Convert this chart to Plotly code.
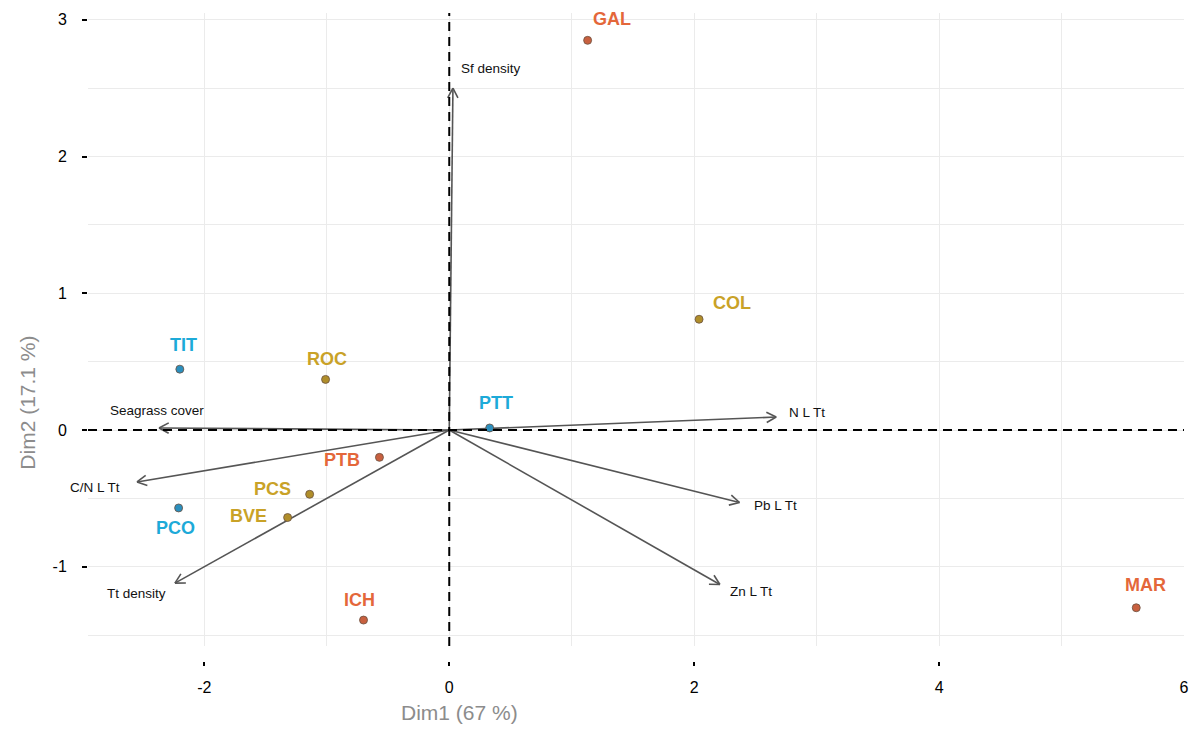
import math
import plotly.graph_objects as go

# ---- individuals (sites) on the first two PCA dimensions ----
sites = ["GAL", "COL", "TIT", "ROC", "PTT", "PTB", "PCS", "BVE", "PCO", "ICH", "MAR"]
dim1 = [1.13, 2.04, -2.20, -1.01, 0.33, -0.57, -1.14, -1.32, -2.21, -0.70, 5.61]
dim2 = [2.85, 0.81, 0.445, 0.37, 0.015, -0.20, -0.47, -0.64, -0.57, -1.39, -1.30]
groups = ["A", "B", "C", "B", "C", "A", "B", "B", "C", "A", "A"]

# ---- variables (loadings) ----
variables = ["Sf density", "Seagrass cover", "N L Tt", "C/N L Tt", "Pb L Tt", "Zn L Tt", "Tt density"]
var_d1 = [0.03, -2.37, 2.67, -2.55, 2.37, 2.21, -2.24]
var_d2 = [2.50, 0.015, 0.095, -0.38, -0.53, -1.13, -1.12]

x_ticks = [-2, 0, 2, 4, 6]
x_tick_text = ["-2", "0", "2", "4", "6"]
y_ticks = [-1, 0, 1, 2, 3]
y_tick_text = ["-1", "0", "1", "2", "3"]

# styling
label_col = {"A": "#E4673A", "B": "#C9A227", "C": "#1DAAD8"}
point_col = {"A": "#C8603F", "B": "#B08E2A", "C": "#2B8FBE"}
# label offsets (px) relative to each point
site_off = {
    "GAL": (24, 21), "COL": (33, 16), "TIT": (4, 24), "ROC": (1, 20), "PTT": (6, 25),
    "PTB": (-37, -3), "PCS": (-37, 5), "BVE": (-39, 2), "PCO": (-3, -20), "ICH": (-4, 20),
    "MAR": (9, 23),
}
# (xanchor, dx, dy) for variable labels relative to arrow tips
var_off = {
    "Sf density": ("left", 6, 20), "Seagrass cover": ("center", -2, 17),
    "N L Tt": ("left", 11, 5), "C/N L Tt": ("right", -15, -6),
    "Pb L Tt": ("left", 13, -3), "Zn L Tt": ("left", 8, -7),
    "Tt density": ("right", -7, -10),
}

W, H = 1200, 731
ML, MR, MT, MB = 88, 11, 12, 65
XR = [-2.95, 6.0]
YR = [-1.58, 3.05]
plot_w = W - ML - MR
plot_h_total = H - MT - MB
panel_h = 634
y_dom0 = (plot_h_total - panel_h) / plot_h_total
ux = plot_w / (XR[1] - XR[0])
uy = panel_h / (YR[1] - YR[0])

fig = go.Figure()

# arrows with open V heads
ax, ay = [], []
head_len, head_ang = 11, math.radians(28)
for x, y in zip(var_d1, var_d2):
    ax += [0, x, None]
    ay += [0, y, None]
    th = math.atan2(y * uy, x * ux)
    for s in (1, -1):
        hx = x - head_len * math.cos(th + s * head_ang) / ux
        hy = y - head_len * math.sin(th + s * head_ang) / uy
        ax += [x, hx, None]
        ay += [y, hy, None]
fig.add_trace(go.Scatter(x=ax, y=ay, mode="lines", line=dict(color="#555555", width=1.6),
                         hoverinfo="skip", showlegend=False))

# site points
for g in ["A", "B", "C"]:
    xs = [d for d, gg in zip(dim1, groups) if gg == g]
    ys = [d for d, gg in zip(dim2, groups) if gg == g]
    fig.add_trace(go.Scatter(
        x=xs, y=ys, mode="markers",
        marker=dict(size=8, color=point_col[g], line=dict(color="#6a5040", width=0.8)),
        showlegend=False))

annotations = []
for s, x, y, g in zip(sites, dim1, dim2, groups):
    dx, dy = site_off[s]
    annotations.append(dict(
        x=x, y=y, text="<b>%s</b>" % s, showarrow=False, xshift=dx, yshift=dy,
        font=dict(family="Liberation Sans, Arial", size=18, color=label_col[g])))
for v, x, y in zip(variables, var_d1, var_d2):
    anc, dx, dy = var_off[v]
    annotations.append(dict(
        x=x, y=y, text=v, showarrow=False, xanchor=anc, xshift=dx, yshift=dy,
        font=dict(family="Liberation Sans, Arial", size=13.5, color="#111111")))

# axis titles (placed in paper units)
annotations.append(dict(x=(461 - ML) / plot_w, y=(H - 713 - MB) / plot_h_total,
                        xref="paper", yref="paper", text="Dim1 (67 %)", showarrow=False,
                        xanchor="center", yanchor="middle",
                        font=dict(family="Liberation Sans, Arial", size=21, color="#8c8c8c")))
annotations.append(dict(x=(27 - ML) / plot_w, y=(H - 402 - MB) / plot_h_total,
                        xref="paper", yref="paper", text="Dim2 (17.1 %)", textangle=-90,
                        showarrow=False, xanchor="center", yanchor="middle",
                        font=dict(family="Liberation Sans, Arial", size=21, color="#8c8c8c")))

# dashed reference lines through the origin
shapes = [
    dict(type="line", xref="x domain", yref="y", x0=0, x1=1, y0=0, y1=0,
         line=dict(color="black", width=2, dash="9px,6px"), layer="above"),
    dict(type="line", xref="x", yref="y domain", x0=0, x1=0, y0=0, y1=1,
         line=dict(color="black", width=2, dash="9px,6px"), layer="above"),
]

grid = "#ebebeb"
fig.update_layout(
    width=W, height=H, margin=dict(l=ML, r=MR, t=MT, b=MB),
    plot_bgcolor="white", paper_bgcolor="white",
    annotations=annotations, shapes=shapes,
    font=dict(family="Liberation Sans, Arial", size=16, color="black"),
    xaxis=dict(range=XR, tickvals=x_ticks, ticktext=x_tick_text, showgrid=True,
               gridcolor=grid, gridwidth=1,
               zeroline=False, showline=False, anchor="free", position=0,
               ticks="inside", ticklen=4, tickwidth=1.5, tickcolor="black",
               ticklabelstandoff=10,
               minor=dict(dtick=1, tick0=1, showgrid=True, gridcolor=grid, gridwidth=1),
               tickfont=dict(size=16, color="black")),
    yaxis=dict(range=YR, tickvals=y_ticks, ticktext=y_tick_text, domain=[y_dom0, 1],
               showgrid=True, gridcolor=grid,
               gridwidth=1, zeroline=False, showline=False,
               ticks="outside", ticklen=5, tickwidth=1.5, tickcolor="black",
               ticklabelstandoff=12,
               minor=dict(dtick=0.5, tick0=0.5, showgrid=True, gridcolor=grid, gridwidth=1),
               tickfont=dict(size=16, color="black")),
)

fig.write_html("out.html")
